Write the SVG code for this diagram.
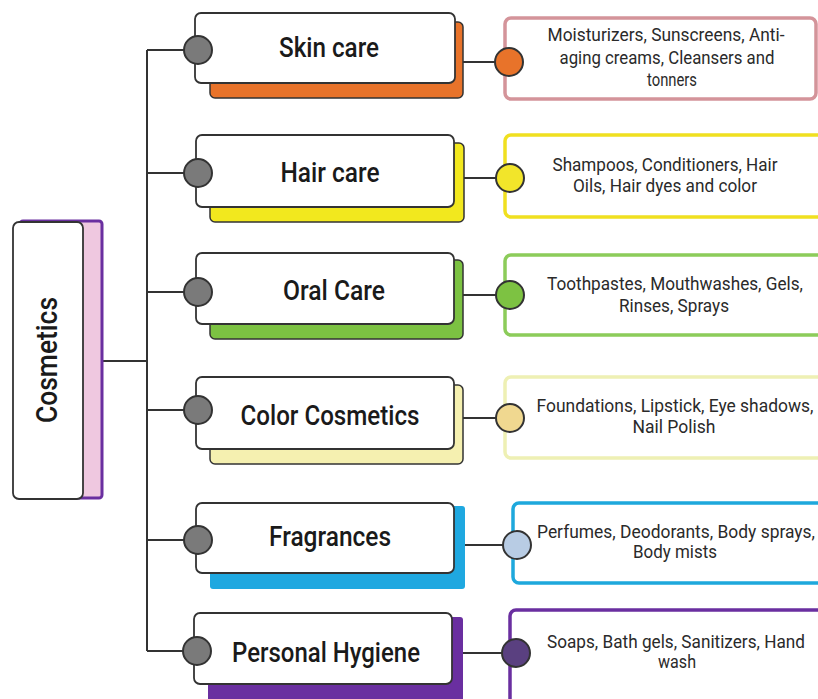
<svg xmlns="http://www.w3.org/2000/svg" width="818" height="699" viewBox="0 0 818 699">
<style>
.line{stroke:#333;stroke-width:2;fill:none}
.front{fill:#fff;stroke:#333;stroke-width:1.8}
.back{stroke:#333;stroke-width:1.5}
.dot{fill:#7a7a7a;stroke:#333;stroke-width:2}
.rdot{stroke:#333;stroke-width:2}
.box{fill:#fff;stroke-width:3.5}
.mid{font-family:Roboto,"Liberation Sans",sans-serif;font-weight:500;font-size:27px;fill:#1a1a1a;text-anchor:middle}
.desc{font-family:Roboto,"Liberation Sans",sans-serif;font-size:17.5px;fill:#2a2a2a;text-anchor:middle}
</style>
<rect width="818" height="699" fill="#fff"/>
<g id="connectors">
<path class="line" d="M102 361H147M147 50V651M147 50H198M147 173H198M147 292H198M147 410H198M147 540H198M147 651H198"/>
<path class="line" d="M463 62H509M463 178H510M463 295H510M463 418H510M463 545H517M463 653H516"/>
</g>
<g id="cosmetics">
<rect x="20" y="221" width="82" height="277" rx="3" fill="#efc8e0" stroke="#6a2fa0" stroke-width="3"/>
<rect class="front" x="13" y="222" width="70" height="277" rx="6"/>
<text transform="translate(57 360) rotate(-90)" font-family="Roboto,'Liberation Sans',sans-serif" font-weight="500" font-size="30" fill="#1a1a1a" text-anchor="middle" textLength="126" lengthAdjust="spacingAndGlyphs">Cosmetics</text>
</g>
<g id="skin-care">
<rect class="back" x="210" y="22" width="253" height="76" rx="5" fill="#e8732a"/>
<rect class="front" x="195" y="13" width="260" height="70" rx="6"/>
<circle class="dot" cx="198" cy="50" r="14"/>
<text class="mid" x="329" y="57" textLength="100" lengthAdjust="spacingAndGlyphs">Skin care</text>
</g>
<g id="hair-care">
<rect class="back" x="210" y="143" width="254" height="79" rx="5" fill="#f2e81e"/>
<rect class="front" x="196" y="135" width="258" height="72" rx="6"/>
<circle class="dot" cx="198" cy="173" r="14"/>
<text class="mid" x="330" y="182" textLength="99" lengthAdjust="spacingAndGlyphs">Hair care</text>
</g>
<g id="oral-care">
<rect class="back" x="210" y="260" width="253" height="79" rx="5" fill="#7cc242"/>
<rect class="front" x="196" y="253" width="258" height="71" rx="6"/>
<circle class="dot" cx="198" cy="292" r="14"/>
<text class="mid" x="334" y="300" textLength="102" lengthAdjust="spacingAndGlyphs">Oral Care</text>
</g>
<g id="color-cosmetics">
<rect class="back" x="210" y="385" width="253" height="79" rx="5" fill="#f5f0b0"/>
<rect class="front" x="196" y="377" width="258" height="72" rx="6"/>
<circle class="dot" cx="198" cy="410" r="14"/>
<text class="mid" x="330" y="425" textLength="179" lengthAdjust="spacingAndGlyphs">Color Cosmetics</text>
</g>
<g id="fragrances">
<rect x="210" y="506" width="255" height="83" rx="3" fill="#1fa8e0"/>
<rect class="front" x="196" y="503" width="258" height="70" rx="6"/>
<circle class="dot" cx="198" cy="540" r="14"/>
<text class="mid" x="330" y="546" textLength="122" lengthAdjust="spacingAndGlyphs">Fragrances</text>
</g>
<g id="personal-hygiene">
<rect x="208" y="617" width="255" height="84" rx="3" fill="#6a2fa0"/>
<rect class="front" x="194" y="613" width="258" height="71" rx="6"/>
<circle class="dot" cx="197" cy="651" r="14"/>
<text class="mid" x="326" y="662" textLength="188" lengthAdjust="spacingAndGlyphs">Personal Hygiene</text>
</g>
<g id="skin-desc">
<rect class="box" x="505" y="18" width="311" height="81" rx="6" stroke="#d4949a"/>
<circle class="rdot" cx="509" cy="62" r="14" fill="#e8732a"/>
<text class="desc" x="666" y="41" textLength="237" lengthAdjust="spacingAndGlyphs">Moisturizers, Sunscreens, Anti-</text>
<text class="desc" x="667" y="64" textLength="215" lengthAdjust="spacingAndGlyphs">aging creams, Cleansers and</text>
<text class="desc" x="672" y="86" textLength="50" lengthAdjust="spacingAndGlyphs">tonners</text>
</g>
<g id="hair-desc">
<rect class="box" x="505" y="135" width="320" height="82" rx="6" stroke="#f0e020" stroke-width="4"/>
<circle class="rdot" cx="510" cy="178" r="14" fill="#f2e52a"/>
<text class="desc" x="665" y="171" textLength="225" lengthAdjust="spacingAndGlyphs">Shampoos, Conditioners, Hair</text>
<text class="desc" x="665" y="192" textLength="184" lengthAdjust="spacingAndGlyphs">Oils, Hair dyes and color</text>
</g>
<g id="oral-desc">
<rect class="box" x="505" y="255" width="320" height="80" rx="6" stroke="#8ccc5a"/>
<circle class="rdot" cx="510" cy="295" r="14" fill="#7dc242"/>
<text class="desc" x="675" y="290" textLength="256" lengthAdjust="spacingAndGlyphs">Toothpastes, Mouthwashes, Gels,</text>
<text class="desc" x="674" y="312" textLength="110" lengthAdjust="spacingAndGlyphs">Rinses, Sprays</text>
</g>
<g id="color-desc">
<rect class="box" x="505" y="377" width="320" height="81" rx="6" stroke="#eef0b4"/>
<circle class="rdot" cx="510" cy="418" r="14" fill="#f0d890"/>
<text class="desc" x="675" y="412" textLength="277" lengthAdjust="spacingAndGlyphs">Foundations, Lipstick, Eye shadows,</text>
<text class="desc" x="674" y="433" textLength="83" lengthAdjust="spacingAndGlyphs">Nail Polish</text>
</g>
<g id="fragrances-desc">
<rect class="box" x="513" y="503" width="320" height="80" rx="6" stroke="#1ea8dc"/>
<circle class="rdot" cx="517" cy="545" r="14" fill="#b8cce4"/>
<text class="desc" x="676" y="538" textLength="278" lengthAdjust="spacingAndGlyphs">Perfumes, Deodorants, Body sprays,</text>
<text class="desc" x="675" y="558" textLength="84" lengthAdjust="spacingAndGlyphs">Body mists</text>
</g>
<g id="personal-desc">
<rect class="box" x="510" y="610" width="320" height="95" rx="6" stroke="#6a2fa0"/>
<circle class="rdot" cx="516" cy="653" r="14" fill="#5a4080"/>
<text class="desc" x="676" y="648" textLength="258" lengthAdjust="spacingAndGlyphs">Soaps, Bath gels, Sanitizers, Hand</text>
<text class="desc" x="677" y="668" textLength="38" lengthAdjust="spacingAndGlyphs">wash</text>
</g>
</svg>
